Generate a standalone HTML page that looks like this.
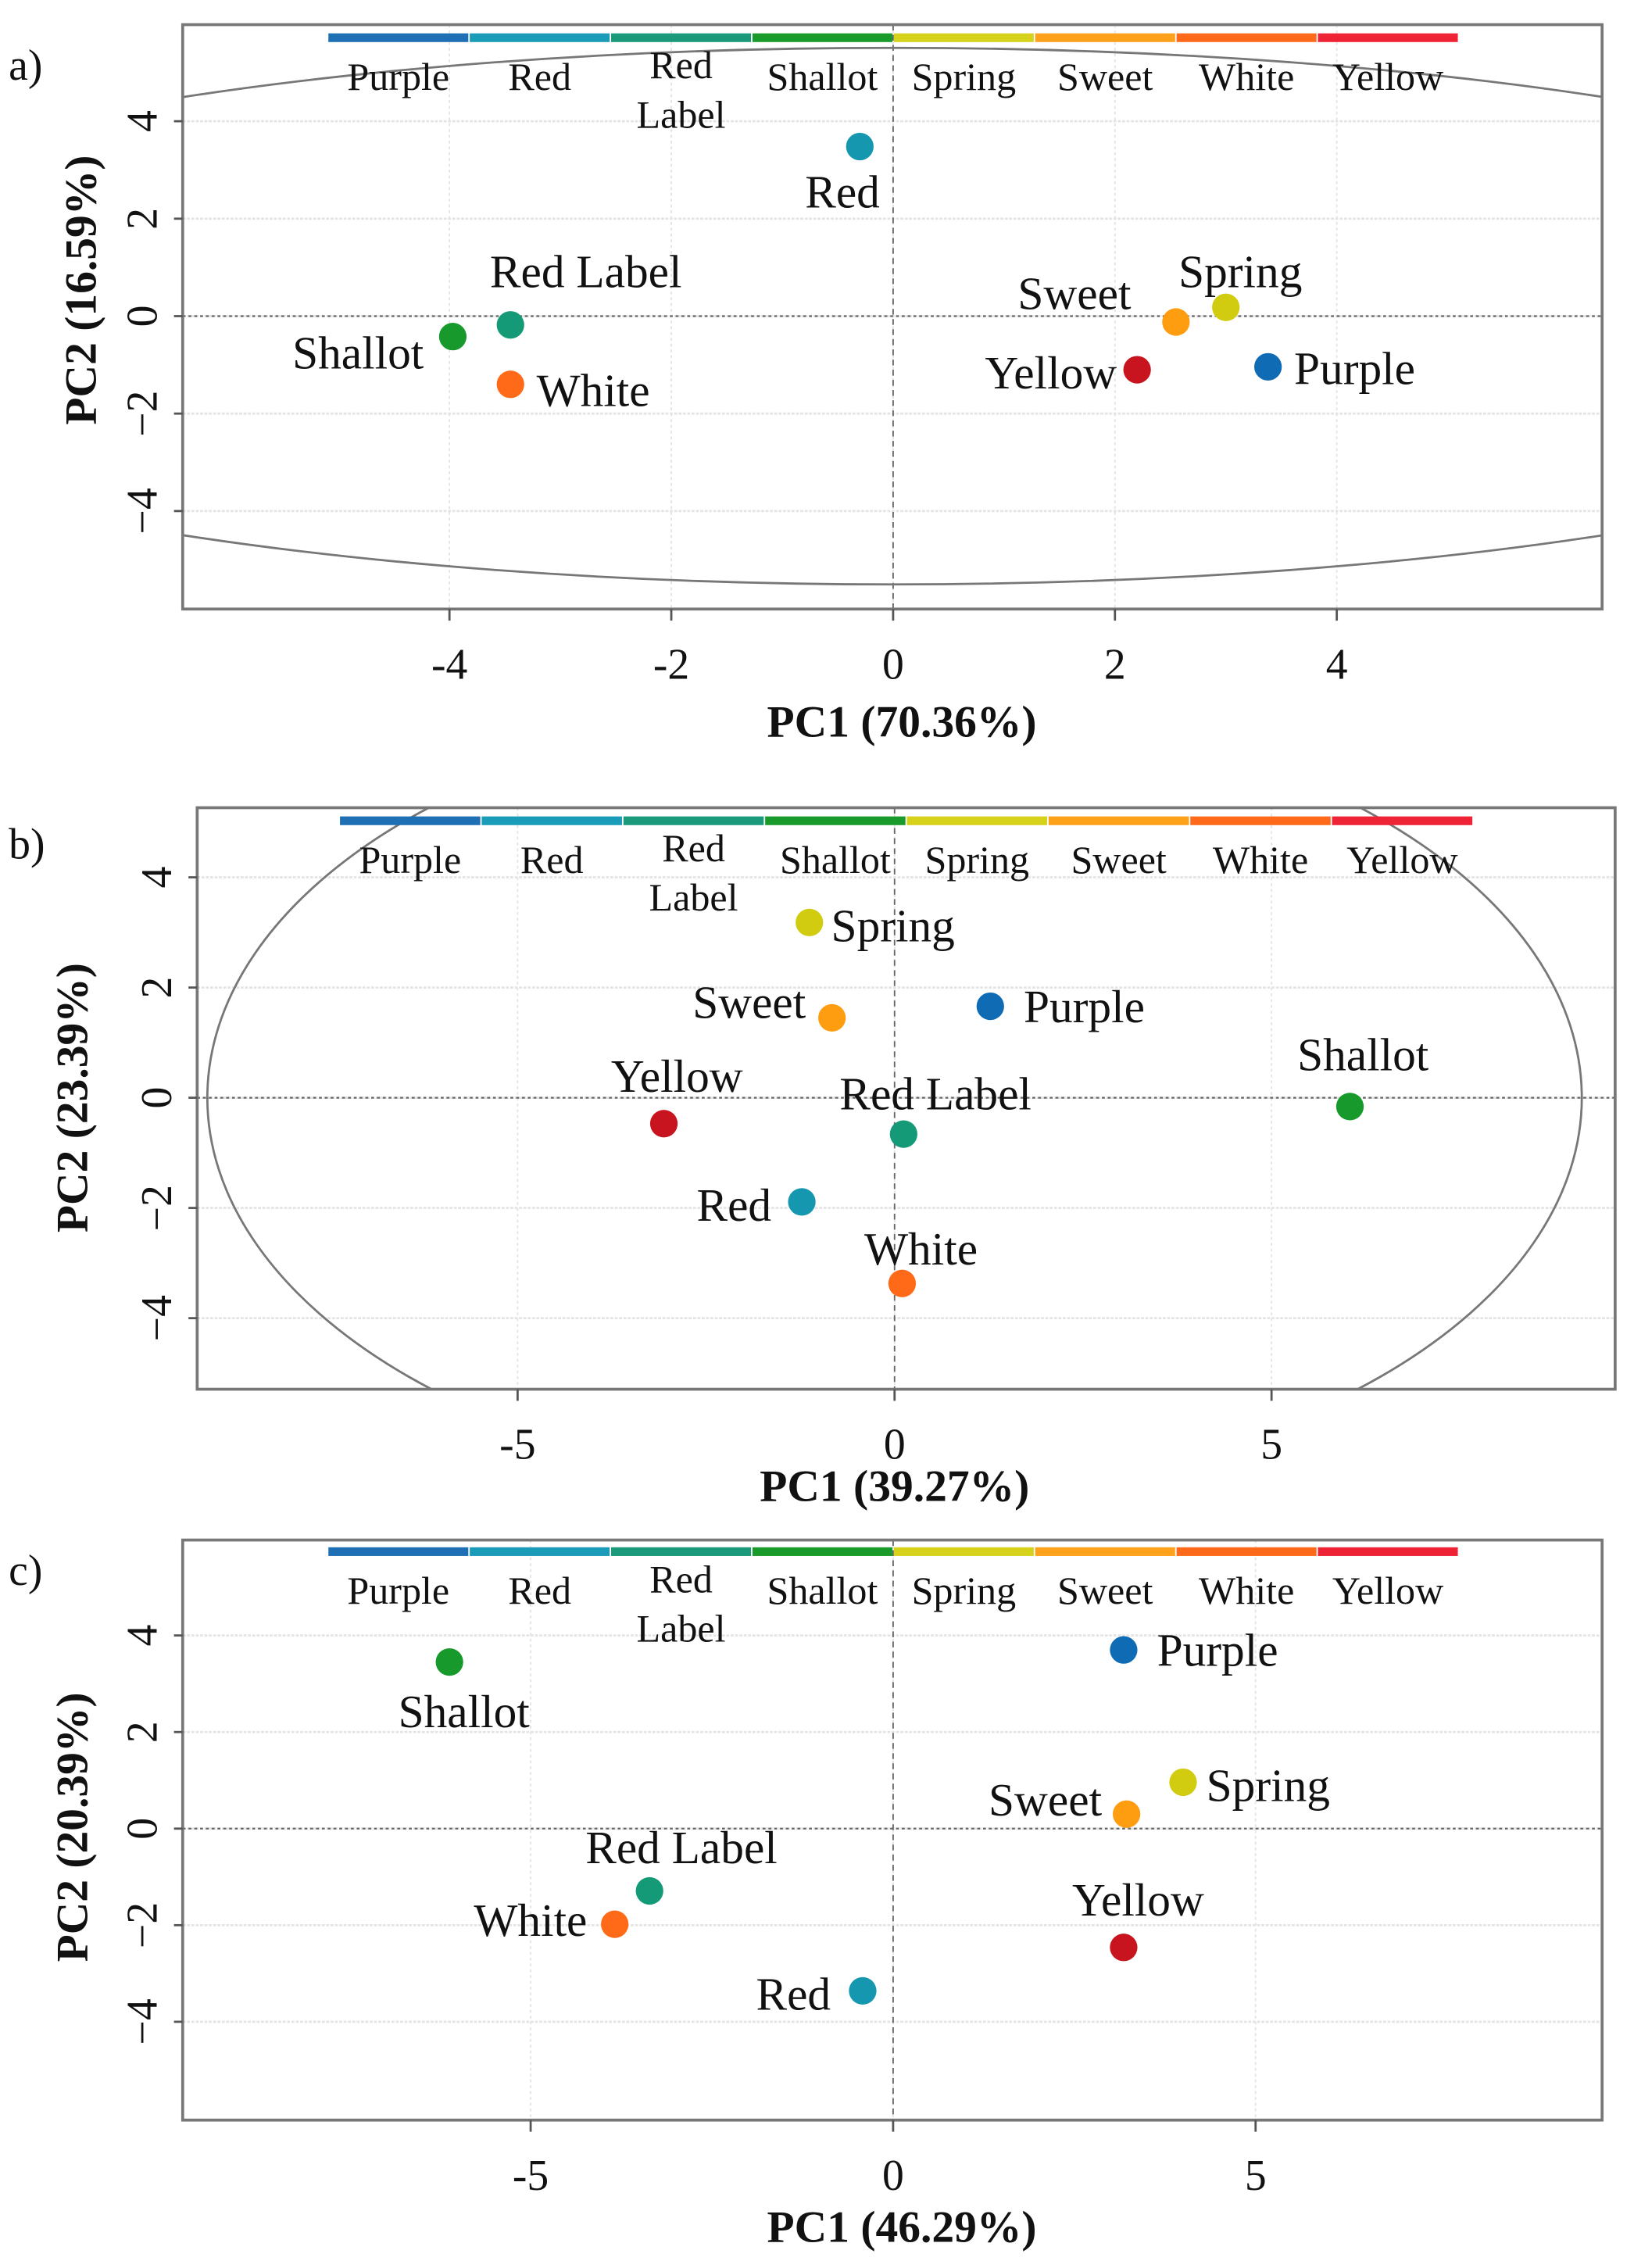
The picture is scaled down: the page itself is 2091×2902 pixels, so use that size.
<!DOCTYPE html>
<html><head><meta charset="utf-8"><style>
html,body{margin:0;padding:0;background:#fff;}
svg{display:block;}
text{font-family:"Liberation Serif",serif;fill:#111;}
</style></head><body>
<svg id="chart" width="2091" height="2902" viewBox="0 0 1127 1564" preserveAspectRatio="none" xmlns="http://www.w3.org/2000/svg"></svg>
<script>
const groups = ["Purple","Red","Red Label","Shallot","Spring","Sweet","White","Yellow"];
const legendColors = ["#1f6fb4","#1a9bb8","#1a9a7a","#1a9a2a","#d6d11a","#ffa11a","#ff6a1a","#ee2336"];
const pointColors = ["#0f6cb4","#1597b0","#159a78","#17992b","#d2cc10","#ff9d10","#ff6a18","#c8141e"];

// Panel a values
const aPC1 = [3.38,-0.3,-3.45,-3.97,3.0,2.55,-3.45,2.2];
const aPC2 = [-1.04,3.48,-0.18,-0.42,0.18,-0.12,-1.4,-1.1];
const aXTicks = [-4,-2,0,2,4];
const aYTicks = [-4,-2,0,2,4];
// Panel b values
const bPC1 = [1.27,-1.23,0.12,6.04,-1.13,-0.83,0.1,-3.06];
const bPC2 = [1.66,-1.89,-0.66,-0.16,3.18,1.45,-3.37,-0.47];
const bXTicks = [-5,0,5];
const bYTicks = [-4,-2,0,2,4];
// Panel c values
const cPC1 = [3.18,-0.42,-3.36,-6.12,4.0,3.22,-3.84,3.18];
const cPC2 = [3.7,-3.36,-1.29,3.45,0.96,0.3,-1.98,-2.46];
const cXTicks = [-5,0,5];
const cYTicks = [-4,-2,0,2,4];

const NS="http://www.w3.org/2000/svg";
const svg=document.getElementById('chart');
function mk(tag,attrs,parent,txt){const e=document.createElementNS(NS,tag);for(const k in attrs)e.setAttribute(k,attrs[k]);if(txt!==undefined)e.textContent=txt;(parent||svg).appendChild(e);return e;}

function panel(cfg){
  const g=mk('g',{});
  
  
  const sx=v=>cfg.x0+v*cfg.kx, sy=v=>cfg.y0-v*cfg.ky;
  const clipId='clip'+cfg.id;
  const cp=mk('clipPath',{id:clipId},g);
  mk('rect',{x:cfg.L,y:cfg.T,width:cfg.R-cfg.L,height:cfg.B-cfg.T},cp);
  cfg.xt.forEach(v=>{const l=mk('line',{x1:sx(v),x2:sx(v),y1:cfg.T,y2:cfg.B,stroke:'#e4e4e4','stroke-width':1,'stroke-dasharray':'2,2'},g);});
  cfg.yt.forEach(v=>{const l=mk('line',{x1:cfg.L,x2:cfg.R,y1:sy(v),y2:sy(v),stroke:'#e4e4e4','stroke-width':1.5,'stroke-dasharray':'2,1'},g);});
  const zx=mk('line',{x1:sx(0),x2:sx(0),y1:cfg.T,y2:cfg.B,stroke:'#666','stroke-width':1,'stroke-dasharray':'4,3'},g);
  
  const zy=mk('line',{x1:cfg.L,x2:cfg.R,y1:sy(0),y2:sy(0),stroke:'#666','stroke-width':1.2,'stroke-dasharray':'2,2'},g);
  
  if(cfg.ell){const e=mk('ellipse',{cx:sx(0),cy:sy(0),rx:cfg.ell[0],ry:cfg.ell[1],fill:'none',stroke:'#777','stroke-width':1.5,'clip-path':'url(#'+clipId+')'},g);
    }
  const fr=mk('rect',{x:cfg.L,y:cfg.T,width:cfg.R-cfg.L,height:cfg.B-cfg.T,fill:'none',stroke:'#777','stroke-width':2},g);
  
  const segW=(cfg.lg[1]-cfg.lg[0])/groups.length;
  groups.forEach((n,i)=>{
    const r=mk('rect',{x:cfg.lg[0]+i*segW+0.5,y:cfg.lgY-3,width:segW-1,height:6,fill:legendColors[i]},g);
    
    const cx=cfg.lg[0]+(i+0.5)*segW;
    if(n==='Red Label'){
      const t1=mk('text',{x:cx,y:cfg.lgY+28,'font-size':27,'text-anchor':'middle'},g,'Red');
      
      const t2=mk('text',{x:cx,y:cfg.lgY+62,'font-size':27,'text-anchor':'middle'},g,'Label');
      
    } else {
      const t=mk('text',{x:cx,y:cfg.lgY+36,'font-size':27,'text-anchor':'middle'},g,n);
      
    }
  });
  groups.forEach((n,i)=>{
    const px=sx(cfg.px[i]),py=sy(cfg.py[i]);
    const c=mk('circle',{cx:px,cy:py,r:9.5,fill:pointColors[i]},g);
    
    const lo=cfg.lab[i];
    const t=mk('text',{x:px+lo[0],y:py+lo[1],'font-size':32,'text-anchor':lo[2]},g,n);
    
  });
  cfg.xt.forEach(v=>{
    const tk=mk('line',{x1:sx(v),x2:sx(v),y1:cfg.B,y2:cfg.B+8,stroke:'#555','stroke-width':1.5},g);
    
    const t=mk('text',{x:sx(v),y:cfg.B+48,'font-size':30,'text-anchor':'middle'},g,v<0?'-'+Math.abs(v):String(v));
    
  });
  cfg.yt.forEach(v=>{
    const tk=mk('line',{x1:cfg.L-6,x2:cfg.L,y1:sy(v),y2:sy(v),stroke:'#555','stroke-width':1.5},g);
    
    const t=mk('text',{x:0,y:0,'font-size':30,'text-anchor':'middle',transform:'translate('+(cfg.L-18)+','+sy(v)+') rotate(-90)'},g,v<0?'\u2212'+Math.abs(v):String(v));
    
  });
  const xt=mk('text',{x:cfg.xtitle[0],y:cfg.xtitle[1],'font-size':31,'font-weight':'bold','text-anchor':'middle'},g,cfg.xl);
  
  const yt=mk('text',{x:0,y:0,'font-size':31,'font-weight':'bold','text-anchor':'middle',transform:'translate('+cfg.ytitle[0]+','+cfg.ytitle[1]+') rotate(-90)'},g,cfg.yl);
  
  const pl=mk('text',{x:6,y:cfg.letterY,'font-size':30},g,cfg.id+')');
  
}

panel({id:'a',L:126,R:1105,T:17,B:420,x0:616,y0:218,kx:76.5,ky:33.6,px:aPC1,py:aPC2,xt:aXTicks,yt:aYTicks,
  ell:[848,185],lg:[226,1006],lgY:26,xl:'PC1 (70.36%)',yl:'PC2 (16.59%)',xtitle:[622,508],ytitle:[66,200],letterY:55,
  lab:[[18,12,'start'],[-12,42,'middle'],[52,-26,'middle'],[-20,22,'end'],[10,-14,'middle'],[-70,-9,'middle'],[18,15,'start'],[-14,13,'end']]});
panel({id:'b',L:136,R:1114,T:557,B:958,x0:617,y0:757,kx:52,ky:38,px:bPC1,py:bPC2,xt:bXTicks,yt:bYTicks,
  ell:[474,272],lg:[234,1016],lgY:566,xl:'PC1 (39.27%)',yl:'PC2 (23.39%)',xtitle:[617,1035],ytitle:[60,757],letterY:592,
  lab:[[23,11,'start'],[-21,13,'end'],[22,-17,'middle'],[9,-25,'middle'],[15,13,'start'],[-18,0,'end'],[13,-13,'middle'],[9,-22,'middle']]});
panel({id:'c',L:126,R:1105,T:1062,B:1462,x0:616,y0:1261,kx:50,ky:33.3,px:cPC1,py:cPC2,xt:cXTicks,yt:cYTicks,
  ell:null,lg:[226,1006],lgY:1070,xl:'PC1 (46.29%)',yl:'PC2 (20.39%)',xtitle:[622,1546],ytitle:[60,1260],letterY:1093,
  lab:[[23,11,'start'],[-22,13,'end'],[22,-19,'middle'],[10,45,'middle'],[16,13,'start'],[-17,1,'end'],[-19,8,'end'],[10,-22,'middle']]});
</script>
</body></html>
